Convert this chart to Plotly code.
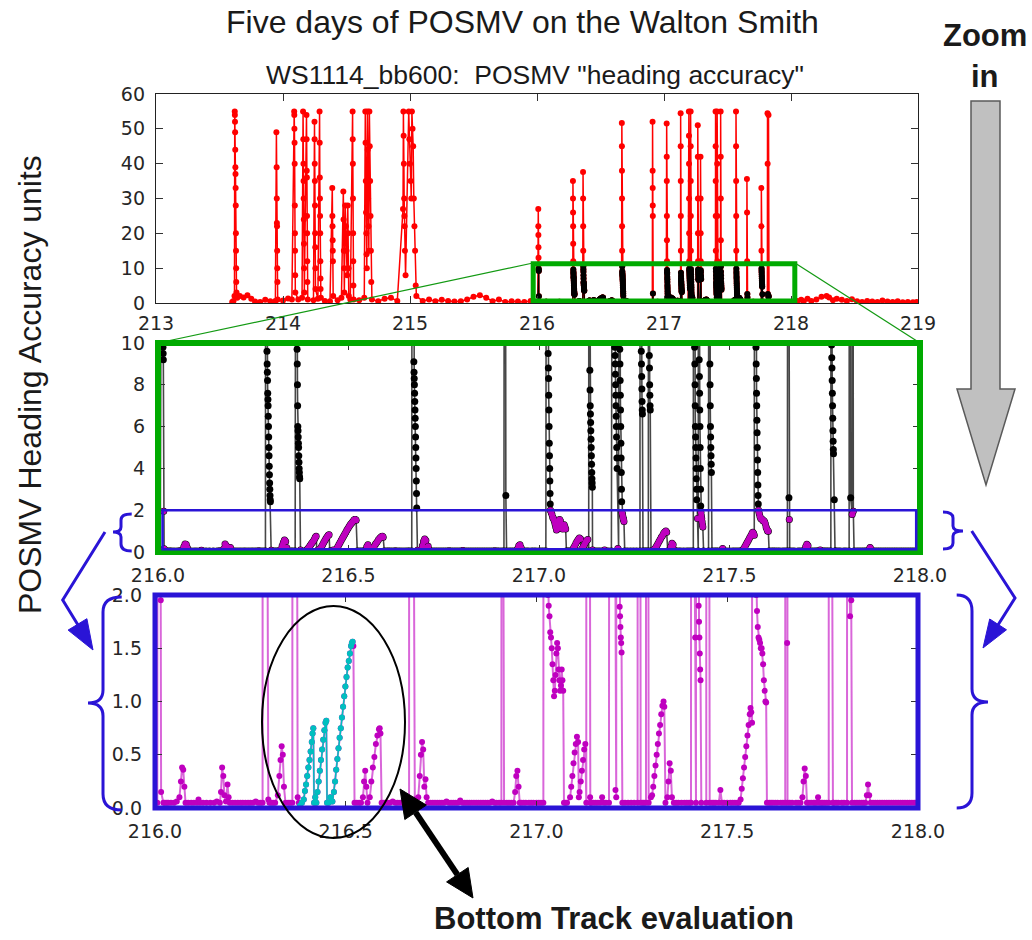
import plotly.graph_objects as go

W, H = 1032, 940

# ---------------- data (day of year, POSMV heading accuracy) ----------------
day_a = [213.600, 213.610, 213.618, 213.620, 213.621, 213.622, 213.623, 213.624, 213.625, 213.626, 213.627, 213.628, 213.629, 213.630, 213.631, 213.632, 213.634,
         213.640, 213.660, 213.690, 213.720, 213.750, 213.780, 213.820, 213.860, 213.900, 213.940,
         213.948, 213.950, 213.951, 213.952, 213.953, 213.954, 213.955, 213.956, 213.958, 214.000, 214.040, 214.070,
         214.088, 214.089, 214.090, 214.091, 214.092, 214.093, 214.094, 214.095, 214.096, 214.097, 214.120, 214.150,
         214.158, 214.160, 214.161, 214.162, 214.163, 214.164, 214.165, 214.166, 214.168, 214.185, 214.186, 214.187, 214.188, 214.189, 214.190, 214.191, 214.192, 214.195,
         214.240, 214.248, 214.249, 214.250, 214.251, 214.252, 214.253, 214.254, 214.255, 214.256, 214.275,
         214.288, 214.289, 214.290, 214.291, 214.292, 214.293, 214.294, 214.295, 214.296, 214.298, 214.330, 214.370,
         214.388, 214.389, 214.390, 214.391, 214.392, 214.393, 214.395, 214.430, 214.460,
         214.475, 214.477, 214.479, 214.481, 214.483, 214.490, 214.495, 214.500, 214.505, 214.510, 214.513, 214.516, 214.518, 214.530,
         214.548, 214.549, 214.550, 214.551, 214.552, 214.553, 214.554, 214.556, 214.600, 214.640,
         214.648, 214.650, 214.652, 214.654, 214.656, 214.658, 214.660, 214.665, 214.667, 214.670, 214.673, 214.676, 214.680, 214.683, 214.686, 214.689, 214.692, 214.695, 214.700,
         214.750, 214.800, 214.850, 214.900, 214.945, 214.948, 214.950, 214.952, 214.954, 214.956, 214.958, 214.960, 214.965,
         214.990, 214.995, 215.000, 215.005, 215.010, 215.015, 215.020, 215.025, 215.030, 215.035, 215.040, 215.045, 215.050,
         215.100, 215.150, 215.200, 215.250, 215.300, 215.350, 215.400, 215.450, 215.500, 215.550, 215.600, 215.650, 215.700, 215.750, 215.800, 215.850, 215.900, 215.950, 215.990]
acc_a = [0.3, 0.6, 2.0, 55.0, 54.0, 52.0, 49.0, 44.0, 39.0, 37.0, 33.0, 28.0, 20.0, 15.0, 10.0, 6.0, 3.0,
         1.5, 2.0, 1.6, 2.2, 1.2, 0.4, 0.3, 0.9, 0.5, 0.6,
         49.0, 39.0, 30.0, 23.0, 22.0, 15.0, 10.0, 6.0, 1.0, 0.7, 1.3, 1.0,
         55.0, 54.0, 50.0, 46.0, 40.0, 28.0, 20.0, 15.0, 8.0, 3.0, 1.0, 1.5,
         55.0, 47.0, 40.0, 35.0, 30.0, 24.0, 17.0, 10.0, 3.0, 54.0, 47.0, 38.0, 36.0, 25.0, 20.0, 12.0, 6.0, 1.0,
         0.8, 52.0, 47.0, 40.0, 35.0, 28.0, 20.0, 16.0, 10.0, 4.0, 1.2,
         55.0, 46.0, 36.0, 30.0, 25.0, 20.0, 12.0, 7.0, 4.0, 1.5, 0.6, 0.5,
         33.0, 25.0, 22.0, 18.0, 15.0, 12.0, 2.0, 0.8, 1.5,
         32.0, 24.0, 15.0, 10.0, 3.0, 28.0, 22.0, 15.0, 8.0, 28.0, 20.0, 10.0, 2.0, 1.0,
         55.0, 47.0, 40.0, 30.0, 20.0, 12.0, 5.0, 1.0, 0.8, 1.5,
         55.0, 46.0, 35.0, 26.0, 20.0, 14.0, 10.0, 55.0, 44.0, 30.0, 22.0, 15.0, 55.0, 45.0, 35.0, 25.0, 15.0, 6.0, 1.0,
         0.5, 1.2, 1.5, 0.6, 27.0, 55.0, 48.0, 40.0, 30.0, 25.0, 22.0, 15.0, 8.0,
         55.0, 47.0, 40.0, 35.0, 30.0, 55.0, 50.0, 45.0, 30.0, 22.0, 15.0, 5.0, 2.0,
         0.6, 1.0, 0.5, 0.9, 0.6, 0.4, 0.5, 1.0, 1.8, 2.2, 1.5, 0.5, 1.0, 0.3, 0.5, 0.4, 0.3, 0.6, 0.2]

day_b1 = [216.000, 216.006, 216.010, 216.0105, 216.011, 216.0115, 216.012, 216.0125, 216.013, 216.0135, 216.014, 216.015, 216.016, 216.022,
          216.035, 216.050, 216.064, 216.068, 216.071, 216.074, 216.077, 216.080, 216.095, 216.110, 216.114, 216.118, 216.135, 216.155, 216.170, 216.173, 216.176, 216.179, 216.182, 216.186, 216.190, 216.193, 216.196, 216.210, 216.230, 216.250, 216.270,
          216.282, 216.283, 216.2835, 216.284, 216.2845, 216.285, 216.2855, 216.286, 216.2865, 216.287, 216.2875, 216.288, 216.2885, 216.289, 216.2895, 216.290, 216.2905, 216.291, 216.2915, 216.292, 216.2925, 216.293, 216.2935, 216.294, 216.2945, 216.295, 216.297, 216.300,
          216.315, 216.322, 216.326, 216.329, 216.332, 216.335, 216.338, 216.342, 216.360, 216.3625, 216.363, 216.3635, 216.364, 216.3645, 216.365, 216.3655, 216.366, 216.3665, 216.367, 216.3675, 216.368, 216.3685, 216.369, 216.3695, 216.370, 216.3705, 216.371, 216.3715, 216.372, 216.374, 216.377]
acc_b1 = [0.05, 0.05, 27.0, 22.0, 19.5, 16.0, 13.0, 11.0, 9.8, 9.5, 9.2, 1.95, 0.15, 0.05,
          0.05, 0.05, 0.1, 0.25, 0.38, 0.36, 0.2, 0.05, 0.05, 0.05, 0.08, 0.05, 0.05, 0.05, 0.05, 0.15, 0.38, 0.3, 0.12, 0.06, 0.22, 0.1, 0.05, 0.05, 0.05, 0.05, 0.05,
          0.05, 35.0, 30.0, 26.0, 22.0, 17.0, 12.0, 9.6, 9.0, 8.6, 8.2, 7.6, 7.3, 7.0, 6.5, 6.0, 5.5, 5.0, 4.6, 4.1, 3.7, 3.3, 3.0, 2.7, 2.5, 2.4, 0.08, 0.05,
          0.05, 0.12, 0.3, 0.45, 0.58, 0.5, 0.2, 0.05, 0.05, 37.6, 30.0, 22.0, 15.0, 10.5, 9.7, 9.0, 8.0, 7.0, 6.0, 5.8, 5.5, 5.2, 5.0, 4.6, 4.3, 4.0, 3.8, 3.6, 3.5, 0.1, 0.05]

# bottom-track evaluation period (cyan)
day_bt = [216.380, 216.385, 216.390, 216.393, 216.396, 216.399, 216.402, 216.405, 216.408, 216.411, 216.413, 216.415,
          216.417, 216.420, 216.423, 216.426, 216.429, 216.432, 216.435, 216.438, 216.441, 216.444, 216.447, 216.449,
          216.451, 216.455, 216.460, 216.465, 216.469, 216.472, 216.475, 216.478, 216.481, 216.484, 216.487, 216.490,
          216.493, 216.496, 216.499, 216.502, 216.505, 216.508, 216.511, 216.514, 216.516, 216.518]
acc_bt = [0.02, 0.05, 0.08, 0.16, 0.22, 0.3, 0.38, 0.45, 0.53, 0.62, 0.7, 0.75,
          0.05, 0.1, 0.05, 0.15, 0.25, 0.35, 0.45, 0.55, 0.64, 0.73, 0.8, 0.82,
          0.05, 0.05, 0.1, 0.06, 0.15, 0.25, 0.36, 0.46, 0.56, 0.66, 0.75, 0.85,
          0.95, 1.05, 1.14, 1.23, 1.32, 1.38, 1.45, 1.52, 1.55, 1.56]

day_b2 = [216.520, 216.523, 216.535, 216.545, 216.548, 216.551, 216.554, 216.557, 216.563, 216.567, 216.571, 216.575, 216.579, 216.583, 216.587, 216.589, 216.591, 216.594, 216.610, 216.630, 216.650, 216.666,
          216.668, 216.6685, 216.669, 216.6695, 216.670, 216.6705, 216.671, 216.6715, 216.672, 216.6725, 216.673, 216.6735, 216.674, 216.6745, 216.675, 216.6755, 216.676, 216.6765, 216.677, 216.6775, 216.678, 216.6785, 216.679, 216.681,
          216.690, 216.694, 216.697, 216.700, 216.703, 216.706, 216.709, 216.712, 216.716, 216.740, 216.770, 216.800, 216.830, 216.860, 216.890, 216.908,
          216.910, 216.9105, 216.911, 216.9115, 216.912, 216.913, 216.915, 216.940, 216.944, 216.947, 216.950, 216.953, 216.956, 216.960, 216.980, 217.000, 217.018]
acc_b2 = [1.52, 0.05, 0.05, 0.1, 0.25, 0.35, 0.2, 0.05, 0.1, 0.25, 0.38, 0.48, 0.6, 0.68, 0.74, 0.75, 0.7, 0.05, 0.05, 0.05, 0.05, 0.05,
          51.7, 45.0, 38.0, 30.0, 22.0, 15.0, 10.5, 9.1, 8.6, 8.3, 8.0, 7.6, 7.2, 6.8, 6.4, 6.0, 5.5, 5.0, 4.5, 4.0, 3.4, 2.8, 2.1, 0.08,
          0.1, 0.3, 0.5, 0.62, 0.55, 0.2, 0.27, 0.1, 0.05, 0.05, 0.05, 0.07, 0.05, 0.05, 0.05, 0.05,
          52.0, 38.0, 33.0, 28.0, 25.0, 2.7, 0.05, 0.05, 0.15, 0.3, 0.35, 0.2, 0.05, 0.05, 0.05, 0.05, 0.05]

day_b3 = [217.021, 217.0215, 217.022, 217.0225, 217.023, 217.0235, 217.024, 217.0245, 217.025, 217.0255, 217.026, 217.0265, 217.027, 217.0275, 217.028, 217.0285, 217.029, 217.0295, 217.030, 217.032, 217.034, 217.036, 217.038, 217.040, 217.042, 217.044, 217.046, 217.048, 217.050, 217.052, 217.054, 217.056, 217.058, 217.060, 217.062, 217.064, 217.066, 217.068, 217.070, 217.072,
          217.080, 217.088, 217.091, 217.094, 217.097, 217.100, 217.103, 217.106, 217.109, 217.111, 217.113, 217.116, 217.119, 217.122, 217.125, 217.128, 217.1305, 217.131, 217.1315, 217.132, 217.1325, 217.133, 217.1335, 217.134, 217.1345, 217.135, 217.1355, 217.136, 217.1365, 217.137, 217.1375, 217.138, 217.1385, 217.139, 217.1395, 217.140, 217.1405, 217.141, 217.143,
          217.155, 217.168, 217.172, 217.176, 217.190, 217.196, 217.1965, 217.197, 217.1975, 217.198, 217.1985, 217.199, 217.1995, 217.200, 217.2005, 217.201, 217.2015, 217.202, 217.2025, 217.203, 217.2035, 217.204, 217.2045, 217.205, 217.207, 217.209, 217.2095, 217.210, 217.2105, 217.211, 217.2115, 217.212, 217.2125, 217.213, 217.2135, 217.214, 217.2145, 217.215, 217.2155, 217.216, 217.2165, 217.217, 217.218, 217.219, 217.220, 217.221, 217.222, 217.223, 217.225,
          217.240, 217.265, 217.266, 217.2665, 217.267, 217.2675, 217.268, 217.2685, 217.269, 217.2695, 217.270, 217.2705, 217.271, 217.2715, 217.273, 217.287, 217.2875, 217.288, 217.2885, 217.289, 217.2895, 217.290, 217.2905, 217.291, 217.2915, 217.292, 217.294, 217.300, 217.303, 217.306, 217.309, 217.312, 217.315, 217.318, 217.321, 217.324, 217.327, 217.330, 217.333, 217.335, 217.338, 217.343, 217.346, 217.349, 217.352, 217.355, 217.360]
acc_b3 = [51.5, 42.0, 35.0, 25.0, 18.0, 12.0, 9.5, 8.8, 8.3, 7.5, 6.8, 6.0, 5.2, 4.6, 4.0, 3.4, 2.8, 2.3, 2.0, 1.9, 1.8, 1.65, 1.6, 1.5, 1.35, 1.2, 1.05, 1.1, 1.25, 1.45, 1.55, 1.5, 1.3, 1.2, 1.1, 1.15, 1.3, 1.2, 1.1, 0.05,
          0.05, 0.1, 0.2, 0.3, 0.42, 0.52, 0.6, 0.67, 0.62, 0.1, 0.15, 0.25, 0.35, 0.45, 0.55, 0.6, 0.05, 54.5, 45.0, 35.0, 25.0, 15.0, 8.7, 7.75, 7.0, 6.6, 6.2, 5.8, 5.4, 5.0, 4.6, 4.2, 3.8, 3.5, 3.3, 3.1, 0.1, 0.05, 0.05,
          0.05, 0.05, 0.1, 0.05, 0.05, 55.0, 48.0, 40.0, 30.0, 20.0, 12.0, 9.8, 9.4, 9.0, 8.5, 8.0, 7.5, 7.0, 6.5, 6.0, 5.5, 5.0, 4.5, 4.0, 0.17, 0.1, 55.0, 45.0, 35.0, 25.0, 15.0, 9.7, 9.0, 8.2, 7.5, 6.8, 6.0, 5.2, 4.5, 3.8, 3.0, 2.4, 1.89, 1.8, 1.7, 1.6, 1.55, 1.46, 0.05,
          0.05, 0.05, 51.0, 42.0, 30.0, 20.0, 12.0, 9.6, 9.0, 8.4, 7.8, 7.2, 6.8, 6.6, 0.05, 0.05, 42.0, 30.0, 20.0, 12.0, 9.4, 8.8, 8.0, 7.5, 7.0, 6.8, 0.05, 0.1, 0.12, 0.2, 0.3, 0.4, 0.5, 0.6, 0.7, 0.78, 0.88, 0.96, 1.0, 0.95, 0.05, 0.1, 0.25, 0.42, 0.35, 0.1, 0.05]

day_b4 = [217.380, 217.405, 217.406, 217.4065, 217.407, 217.4075, 217.408, 217.4085, 217.409, 217.4095, 217.410, 217.4105, 217.411, 217.4115, 217.412, 217.4125, 217.413, 217.4135, 217.414, 217.416, 217.418, 217.4185, 217.419, 217.4195, 217.420, 217.4205, 217.421, 217.4215, 217.422, 217.4225, 217.423, 217.4235, 217.424, 217.4245, 217.425, 217.426, 217.427, 217.428, 217.429, 217.430, 217.432, 217.445, 217.446, 217.4465, 217.447, 217.4475, 217.448, 217.4485, 217.449, 217.4495, 217.450, 217.4505, 217.451, 217.4515, 217.452, 217.4525, 217.454,
          217.470, 217.478, 217.482, 217.486, 217.500, 217.520, 217.535, 217.538, 217.541, 217.544, 217.547, 217.550, 217.553, 217.556, 217.559, 217.561, 217.563, 217.565, 217.567, 217.5675, 217.568, 217.5685, 217.569, 217.5695, 217.570, 217.5705, 217.571, 217.5715, 217.572, 217.5725, 217.573, 217.5735, 217.574, 217.5745, 217.575, 217.5755, 217.576, 217.578, 217.580, 217.582, 217.584, 217.586, 217.588, 217.590, 217.592, 217.594, 217.596, 217.598, 217.600, 217.602, 217.604,
          217.620, 217.640, 217.652, 217.653, 217.654, 217.655, 217.656, 217.657, 217.658, 217.680, 217.697, 217.700, 217.703, 217.706, 217.709, 217.720, 217.735, 217.738, 217.741, 217.755, 217.766, 217.7665, 217.767, 217.7675, 217.768, 217.7685, 217.769, 217.7695, 217.770, 217.7705, 217.771, 217.7715, 217.772, 217.7725, 217.773, 217.775, 217.777, 217.779, 217.800, 217.814, 217.815, 217.816, 217.818, 217.822, 217.823, 217.825, 217.827, 217.840, 217.862, 217.866, 217.869, 217.872, 217.876, 217.900, 217.930, 217.960, 217.990, 218.000]
acc_b4 = [0.05, 0.05, 55.0, 45.0, 35.0, 25.0, 15.0, 9.8, 9.0, 8.0, 7.0, 6.0, 5.5, 5.0, 4.5, 4.0, 3.5, 3.0, 2.5, 1.6, 0.05, 55.0, 40.0, 25.0, 12.0, 9.2, 8.4, 7.6, 6.8, 6.0, 5.0, 4.0, 3.0, 2.2, 1.9, 1.75, 1.6, 1.45, 1.3, 1.2, 0.05, 0.05, 55.0, 42.0, 30.0, 18.0, 10.5, 9.0, 8.0, 7.0, 6.0, 5.5, 5.0, 4.6, 4.2, 3.8, 0.05,
          0.05, 0.05, 0.17, 0.05, 0.05, 0.05, 0.08, 0.18, 0.28, 0.38, 0.48, 0.58, 0.68, 0.78, 0.88, 0.94, 0.9, 0.8, 55.0, 45.0, 35.0, 25.0, 15.0, 9.8, 9.0, 8.3, 7.6, 7.0, 6.3, 5.7, 5.0, 4.4, 3.8, 3.2, 2.7, 2.3, 2.0, 1.85, 1.7, 1.6, 1.58, 1.55, 1.5, 1.5, 1.45, 1.35, 1.2, 1.1, 1.0, 0.99, 0.05,
          0.05, 0.05, 0.05, 35.6, 26.0, 12.0, 2.6, 1.55, 0.05, 0.05, 0.1, 0.25, 0.37, 0.3, 0.05, 0.05, 0.05, 0.1, 0.05, 0.05, 0.05, 33.0, 22.0, 15.0, 9.9, 9.3, 8.8, 8.2, 7.6, 7.0, 6.4, 5.8, 5.3, 4.9, 4.7, 2.5, 0.05, 0.05, 0.05, 0.05, 54.5, 40.0, 2.6, 1.8, 54.0, 1.95, 0.05, 0.05, 0.05, 0.12, 0.22, 0.12, 0.05, 0.05, 0.05, 0.05, 0.05, 0.05]

# quiet baseline readings between the events (216-218)
day_base = [216.026, 216.031, 216.042, 216.057, 216.087, 216.102, 216.126, 216.145, 216.162, 216.203, 216.217, 216.224,
            216.237, 216.244, 216.257, 216.264, 216.276, 216.305, 216.310, 216.349, 216.354, 216.529, 216.540, 216.600,
            216.605, 216.616, 216.623, 216.636, 216.643, 216.656, 216.660, 216.686, 216.722, 216.728, 216.734, 216.746,
            216.752, 216.758, 216.764, 216.776, 216.782, 216.788, 216.794, 216.806, 216.812, 216.818, 216.824, 216.836,
            216.842, 216.848, 216.854, 216.866, 216.872, 216.878, 216.884, 216.895, 216.902, 216.922, 216.928, 216.934,
            216.966, 216.972, 216.986, 216.992, 217.006, 217.012, 217.076, 217.149, 217.161, 217.182, 217.232, 217.248,
            217.256, 217.278, 217.282, 217.366, 217.372, 217.388, 217.394, 217.400, 217.460, 217.465, 217.492, 217.508,
            217.514, 217.526, 217.530, 217.610, 217.615, 217.626, 217.632, 217.646, 217.664, 217.670, 217.686, 217.692,
            217.714, 217.726, 217.730, 217.746, 217.750, 217.760, 217.785, 217.791, 217.806, 217.834, 217.846, 217.852,
            217.857, 217.882, 217.888, 217.894, 217.906, 217.912, 217.918, 217.924, 217.936, 217.942, 217.948, 217.954,
            217.966, 217.972, 217.978, 217.984, 217.995]
acc_base = [0.05, 0.05, 0.05, 0.06, 0.05, 0.05, 0.05, 0.05, 0.06, 0.05, 0.05, 0.05,
            0.05, 0.05, 0.05, 0.06, 0.05, 0.05, 0.05, 0.05, 0.05, 0.05, 0.05, 0.05,
            0.05, 0.05, 0.06, 0.05, 0.05, 0.05, 0.05, 0.05, 0.05, 0.05, 0.05, 0.05,
            0.05, 0.05, 0.06, 0.05, 0.05, 0.05, 0.05, 0.05, 0.05, 0.05, 0.05, 0.05,
            0.05, 0.05, 0.05, 0.05, 0.05, 0.05, 0.06, 0.05, 0.05, 0.05, 0.05, 0.05,
            0.05, 0.05, 0.05, 0.05, 0.05, 0.05, 0.05, 0.05, 0.05, 0.05, 0.05, 0.05,
            0.05, 0.05, 0.05, 0.05, 0.05, 0.05, 0.05, 0.05, 0.05, 0.05, 0.05, 0.05,
            0.05, 0.05, 0.05, 0.05, 0.05, 0.05, 0.05, 0.05, 0.05, 0.05, 0.05, 0.05,
            0.05, 0.05, 0.05, 0.05, 0.05, 0.05, 0.05, 0.05, 0.05, 0.05, 0.05, 0.05,
            0.05, 0.05, 0.05, 0.05, 0.05, 0.05, 0.05, 0.05, 0.05, 0.05, 0.05, 0.05,
            0.05, 0.05, 0.05, 0.05, 0.05]

day_c = [218.02, 218.05, 218.08, 218.10, 218.13, 218.16, 218.20, 218.24, 218.28, 218.30, 218.33, 218.36, 218.40, 218.44,
         218.48, 218.52, 218.56, 218.60, 218.64, 218.68, 218.72, 218.76, 218.80, 218.84, 218.88, 218.92, 218.96, 218.99]
acc_c = [0.3, 0.6, 0.9, 0.5, 1.2, 0.6, 1.0, 1.8, 2.0, 1.6, 0.8, 1.2, 0.9, 0.6,
         1.1, 0.5, 0.3, 0.6, 0.4, 0.3, 0.7, 0.4, 0.3, 0.5, 0.2, 0.3, 0.2, 0.3]

top_ticks = [213, 214, 215, 216, 217, 218, 219]
zoom_ticks = [216.0, 216.5, 217.0, 217.5, 218.0]
zoom_tick_text = ["216.0", "216.5", "217.0", "217.5", "218.0"]

for nm, xs, ys in [("a", day_a, acc_a), ("b1", day_b1, acc_b1), ("bt", day_bt, acc_bt), ("b2", day_b2, acc_b2),
                   ("b3", day_b3, acc_b3), ("b4", day_b4, acc_b4), ("base", day_base, acc_base), ("c", day_c, acc_c)]:
    assert len(xs) == len(ys), (nm, len(xs), len(ys))

pairs_b = sorted(zip(day_b1 + day_bt + day_b2 + day_b3 + day_b4 + day_base,
                     acc_b1 + acc_bt + acc_b2 + acc_b3 + acc_b4 + acc_base))
day_b = [p[0] for p in pairs_b]
acc_b = [p[1] for p in pairs_b]
day_all = day_a + day_b + day_c
acc_all = acc_a + acc_b + acc_c

blk_top = [(d, v) for d, v in zip(day_b, acc_b) if v <= 10.6]
mag_mid = [(d, v) for d, v in zip(day_b, acc_b) if v <= 2.05]

RED = "#ff0000"
MAG = "#bf00bf"
CYA = "#00bfbf"
GRN = "#00aa00"
BLU = "#2a14d6"


def P(px, py):
    return px / W, 1 - py / H


def path_px(items):
    out = []
    for it in items:
        if isinstance(it, str):
            out.append(it)
        else:
            x, y = P(*it)
            out.append(f"{x:.5f},{y:.5f}")
    return " ".join(out)


fig = go.Figure()
fig.add_trace(go.Scatter(x=day_all, y=acc_all, mode="lines+markers", xaxis="x", yaxis="y",
                         line=dict(color=RED, width=1.5), marker=dict(color=RED, size=6)))
fig.add_trace(go.Scatter(x=[p[0] for p in blk_top], y=[p[1] for p in blk_top], mode="lines+markers",
                         xaxis="x", yaxis="y", line=dict(color="black", width=1.2),
                         marker=dict(color="black", size=6)))
fig.add_trace(go.Scatter(x=day_b, y=acc_b, mode="lines+markers", xaxis="x2", yaxis="y2",
                         line=dict(color="rgba(0,0,0,0.72)", width=1.6), marker=dict(color="black", size=7)))
fig.add_trace(go.Scatter(x=[p[0] for p in mag_mid], y=[p[1] for p in mag_mid], mode="markers",
                         xaxis="x2", yaxis="y2", marker=dict(color=MAG, size=6)))
fig.add_trace(go.Scatter(x=day_b, y=acc_b, mode="lines+markers", xaxis="x3", yaxis="y3",
                         line=dict(color="rgba(191,0,191,0.6)", width=2), marker=dict(color=MAG, size=6)))
fig.add_trace(go.Scatter(x=day_bt, y=acc_bt, mode="lines+markers", xaxis="x3", yaxis="y3",
                         line=dict(color=CYA, width=1.5), marker=dict(color=CYA, size=6)))

tickfont = dict(family="DejaVu Sans", size=19, color="#262626")
common = dict(showgrid=False, zeroline=False, ticks="inside", ticklen=7, tickwidth=1, tickcolor="#333",
              showline=True, linecolor="#222", linewidth=1.2, mirror="ticks", tickfont=tickfont,
              automargin=False)

fig.update_layout(
    template="none",
    width=W, height=H, margin=dict(l=0, r=0, t=0, b=0, pad=0, autoexpand=False), autosize=False,
    paper_bgcolor="white", plot_bgcolor="white", showlegend=False,
    xaxis=dict(domain=[156 / W, 918 / W], range=[213, 219], tickvals=top_ticks, anchor="y",
               ticklabelstandoff=3, **common),
    yaxis=dict(domain=[1 - 303 / H, 1 - 94 / H], range=[0, 60], tickvals=[0, 10, 20, 30, 40, 50, 60],
               anchor="x", ticklabelstandoff=6, **common),
    xaxis2=dict(domain=[158 / W, 920 / W], range=[216, 218], tickvals=zoom_ticks, ticktext=zoom_tick_text,
                anchor="y2", ticklabelstandoff=6, **common),
    yaxis2=dict(domain=[1 - 552 / H, 1 - 343 / H], range=[0, 10], tickvals=[0, 2, 4, 6, 8, 10],
                anchor="x2", ticklabelstandoff=8, **common),
    xaxis3=dict(domain=[155 / W, 918 / W], range=[216, 218], tickvals=zoom_ticks, ticktext=zoom_tick_text,
                anchor="y3", ticklabelstandoff=6, **common),
    yaxis3=dict(domain=[1 - 808 / H, 1 - 595 / H], range=[0, 2], tickvals=[0, 0.5, 1, 1.5, 2],
                ticktext=["0.0", "0.5", "1.0", "1.5", "2.0"], anchor="x3", ticklabelstandoff=8, **common),
)

shapes = []
# green box in the top panel
shapes.append(dict(type="rect", xref="x", yref="y", x0=215.97, x1=218.03, y0=0.6, y1=11.3,
                   line=dict(color=GRN, width=5)))
# connecting lines
for (a, b) in [((533, 263), (158, 343)), ((795, 263), (920, 343))]:
    x0, y0 = P(*a)
    x1, y1 = P(*b)
    shapes.append(dict(type="line", xref="paper", yref="paper", x0=x0, y0=y0, x1=x1, y1=y1,
                       line=dict(color="#139a13", width=1.2)))
# middle frame
x0, y0 = P(158, 552)
x1, y1 = P(920, 343)
shapes.append(dict(type="rect", xref="paper", yref="paper", x0=x0, y0=y0, x1=x1, y1=y1,
                   line=dict(color=GRN, width=6)))
# blue rect in middle
shapes.append(dict(type="rect", xref="x2", yref="y2", x0=216.012, x1=217.99, y0=0.13, y1=2.0,
                   line=dict(color=BLU, width=2.5)))
# bottom frame
x0, y0 = P(155, 808)
x1, y1 = P(918, 595)
shapes.append(dict(type="rect", xref="paper", yref="paper", x0=x0, y0=y0, x1=x1, y1=y1,
                   line=dict(color=BLU, width=5)))
# ellipse
x0, y0 = P(262, 838)
x1, y1 = P(405, 606)
shapes.append(dict(type="circle", xref="paper", yref="paper", x0=x0, y0=y0, x1=x1, y1=y1,
                   line=dict(color="black", width=2)))
# braces
braces = [
    ["M", (131.7, 514), "Q", (121, 514), (121, 520), "L", (121, 527), "Q", (121, 532), (113, 532),
     "Q", (121, 532), (121, 537), "L", (121, 544), "Q", (121, 551), (131.7, 551)],
    ["M", (121.7, 597), "Q", (103, 597), (103, 612), "L", (103, 690), "Q", (103, 703), (88, 703),
     "Q", (103, 703), (103, 716), "L", (103, 794), "Q", (103, 810), (121.7, 810)],
    ["M", (943, 512), "Q", (953, 512), (953, 518), "L", (953, 526), "Q", (953, 531), (963, 531),
     "Q", (953, 531), (953, 536), "L", (953, 543), "Q", (953, 549), (943, 549)],
    ["M", (956.7, 595), "Q", (972, 595), (972, 611), "L", (972, 689), "Q", (972, 702), (988, 702),
     "Q", (972, 702), (972, 715), "L", (972, 793), "Q", (972, 808), (956.7, 808)],
]
for br in braces:
    shapes.append(dict(type="path", xref="paper", yref="paper", path=path_px(br),
                       line=dict(color=BLU, width=3)))
# blue bent arrows
shapes.append(dict(type="path", xref="paper", yref="paper",
                   path=path_px(["M", (105, 532), "L", (62.7, 600), "L", (78, 625)]),
                   line=dict(color=BLU, width=3)))
shapes.append(dict(type="path", xref="paper", yref="paper",
                   path=path_px(["M", (93, 650), "L", (68.1, 630.1), "L", (86.9, 618.7), "Z"]),
                   fillcolor=BLU, line=dict(color=BLU, width=1)))
shapes.append(dict(type="path", xref="paper", yref="paper",
                   path=path_px(["M", (971.7, 531), "L", (1015, 598), "L", (998, 625)]),
                   line=dict(color=BLU, width=3)))
shapes.append(dict(type="path", xref="paper", yref="paper",
                   path=path_px(["M", (983, 648), "L", (1006.5, 629.8), "L", (989.7, 619), "Z"]),
                   fillcolor=BLU, line=dict(color=BLU, width=1)))
# black double arrow
shapes.append(dict(type="path", xref="paper", yref="paper",
                   path=path_px(["M", (415.6, 812.3), "L", (457.4, 874.7)]),
                   line=dict(color="black", width=6)))
shapes.append(dict(type="path", xref="paper", yref="paper",
                   path=path_px(["M", (400, 789), "L", (404.8, 819.5), "L", (426.4, 805.1), "Z"]),
                   fillcolor="black", line=dict(color="black", width=1)))
shapes.append(dict(type="path", xref="paper", yref="paper",
                   path=path_px(["M", (473, 898), "L", (446.6, 881.9), "L", (468.2, 867.5), "Z"]),
                   fillcolor="black", line=dict(color="black", width=1)))
# grey zoom arrow
shapes.append(dict(type="path", xref="paper", yref="paper",
                   path=path_px(["M", (971, 101), "L", (1000, 101), "L", (1000, 389), "L", (1015, 389),
                                 "L", (986, 485), "L", (957, 389), "L", (971, 389), "Z"]),
                   fillcolor="#c0c0c0", line=dict(color="#5a5a5a", width=1.5)))
fig.update_layout(shapes=shapes)

ann = []


def add_text(px, py, text, size, family, bold=False, angle=0, color="#1a1a1a"):
    x, y = P(px, py)
    t = f"<b>{text}</b>" if bold else text
    ann.append(dict(x=x, y=y, xref="paper", yref="paper", text=t, showarrow=False, textangle=angle,
                    xanchor="center", yanchor="middle", font=dict(size=size, family=family, color=color)))


SANS = "Liberation Sans, Arial"
add_text(522, 22, "Five days of POSMV on the Walton Smith", 32, SANS)
add_text(535, 75, 'WS1114_bb600:  POSMV "heading accuracy"', 26.5, SANS)
add_text(30, 385, "POSMV Heading Accuracy units", 32, SANS, angle=-90)
add_text(985, 36, "Zoom", 31, SANS, bold=True)
add_text(985, 76, "in", 31, SANS, bold=True)
add_text(614, 918, "Bottom Track evaluation", 31, SANS, bold=True)
fig.update_layout(annotations=ann)

fig.write_html("out.html", config={"displayModeBar": False, "staticPlot": True},
               post_script="document.body.style.margin='0';document.body.style.padding='0';"
                           "document.documentElement.style.overflow='hidden';")
